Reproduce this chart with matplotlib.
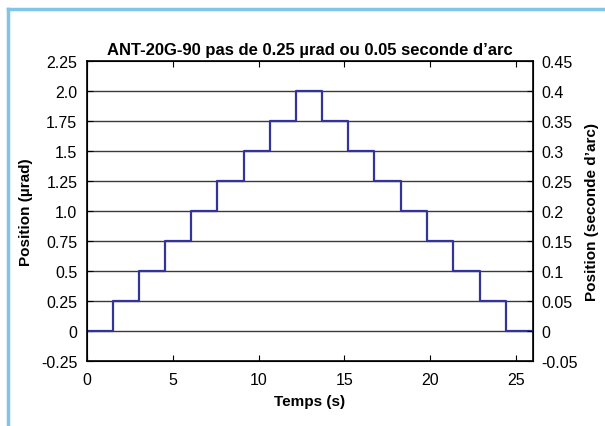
import matplotlib
matplotlib.use('Agg')
import matplotlib.pyplot as plt
from matplotlib.lines import Line2D

plt.rcParams['font.family'] = ['Liberation Sans', 'DejaVu Sans']

# Step edges (s) and position levels (µrad)
step_times = [0, 1.49, 3.02, 4.53, 6.06, 7.60, 9.13, 10.64, 12.18,
              13.70, 15.23, 16.74, 18.30, 19.81, 21.34, 22.89, 24.42, 26.0]
step_levels = [0, 0.25, 0.5, 0.75, 1.0, 1.25, 1.5, 1.75, 2.0,
               1.75, 1.5, 1.25, 1.0, 0.75, 0.5, 0.25, 0, 0]

left_ticks = [-0.25, 0, 0.25, 0.5, 0.75, 1.0, 1.25, 1.5, 1.75, 2.0, 2.25]
left_labels = ['-0.25', '0', '0.25', '0.5', '0.75', '1.0', '1.25', '1.5', '1.75', '2.0', '2.25']
right_ticks = [-0.05, 0, 0.05, 0.1, 0.15, 0.2, 0.25, 0.3, 0.35, 0.4, 0.45]
right_labels = ['-0.05', '0', '0.05', '0.1', '0.15', '0.2', '0.25', '0.3', '0.35', '0.4', '0.45']
x_ticks = [0, 5, 10, 15, 20, 25]

fig = plt.figure(figsize=(6.05, 4.27), dpi=100)
ax = fig.add_axes([0.1438, 0.1522, 0.7372, 0.7026])

# horizontal grid lines at interior ticks
for y in left_ticks[1:-1]:
    ax.axhline(y, color='#3a3a3a', lw=1.0, zorder=1)

ax.plot(step_times, step_levels, drawstyle='steps-post', color='#333399', lw=1.6, zorder=3)

ax.set_xlim(0, 26)
ax.set_ylim(-0.25, 2.25)
ax.set_xticks(x_ticks)
ax.set_yticks(left_ticks)
ax.set_yticklabels(left_labels)
ax.tick_params(direction='in', length=4, labelsize=11.5, top=True, colors='black', pad=7)
ax.tick_params(axis='x', pad=8)
for s in ax.spines.values():
    s.set_linewidth(1.2)

ax2 = ax.twinx()
ax2.set_ylim(-0.05, 0.45)
ax2.set_yticks(right_ticks)
ax2.set_yticklabels(right_labels)
ax2.tick_params(direction='in', length=4, labelsize=11.5, pad=6)

ax.set_title('ANT-20G-90 pas de 0.25 µrad ou 0.05 seconde d\u2019arc',
             fontsize=12, fontweight='bold', pad=5)
ax.set_xlabel('Temps (s)', fontsize=11, fontweight='bold', labelpad=5)
ax.set_ylabel('Position (µrad)', fontsize=11, fontweight='bold', labelpad=6)
ax2.set_ylabel('Position (seconde d\u2019arc)', fontsize=11, fontweight='bold', labelpad=5)

# light blue frame around the figure (left and top edges)
W, H = 605, 427
frame_col = '#80c4ea'
fig.add_artist(Line2D([8 / W, 8 / W], [0, 1 - 10 / H], color=frame_col, lw=2.5, transform=fig.transFigure))
fig.add_artist(Line2D([8 / W, 1], [1 - 10 / H, 1 - 10 / H], color=frame_col, lw=2.5, transform=fig.transFigure))

fig.savefig('out.png', dpi=100)
